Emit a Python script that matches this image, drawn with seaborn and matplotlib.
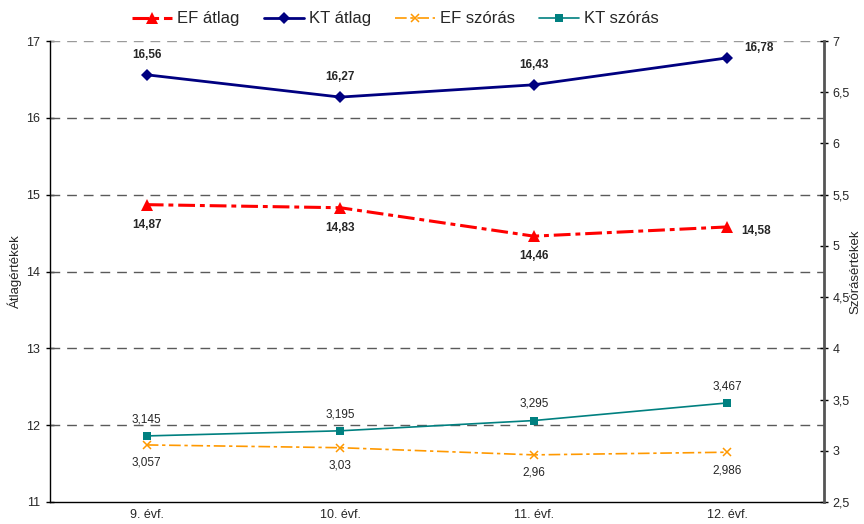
import matplotlib
matplotlib.use("Agg")
import matplotlib.pyplot as plt
import seaborn as sns

# School years (grades 9-12)
grades = ["9. évf.", "10. évf.", "11. évf.", "12. évf."]

# Means (left axis)
ef_mean = [14.87, 14.83, 14.46, 14.58]
kt_mean = [16.56, 16.27, 16.43, 16.78]

# Standard deviations (right axis)
ef_sd = [3.057, 3.03, 2.96, 2.986]
kt_sd = [3.145, 3.195, 3.295, 3.467]

sns.set_theme(style="white")
plt.rcParams["font.family"] = ["Liberation Sans", "DejaVu Sans"]

fig = plt.figure(figsize=(8.64, 5.24), dpi=100)
ax = fig.add_axes([50 / 864, 22 / 524, 774 / 864, 461 / 524])
ax2 = ax.twinx()

RED = "#FF0000"
NAVY = "#000080"
ORANGE = "#FF9900"
TEAL = "#008080"


def fmt(v):
    return f"{v:g}".replace(".", ",")


# Mean series
sns.lineplot(x=grades, y=ef_mean, ax=ax, color=RED, lw=2.2,
             linestyle=(0, (5.5, 1.6, 1.6, 1.6)), marker="^", markersize=9,
             markeredgewidth=0, label="EF átlag", zorder=5)
sns.lineplot(x=grades, y=kt_mean, ax=ax, color=NAVY, lw=2.0,
             marker="D", markersize=6.5, markeredgewidth=0,
             label="KT átlag", zorder=5)

# Standard deviation series
sns.lineplot(x=grades, y=ef_sd, ax=ax2, color=ORANGE, lw=1.2,
             linestyle=(0, (7, 2.2, 2, 2.2)), marker="x", markersize=6,
             markeredgewidth=1.1, markeredgecolor=ORANGE,
             label="EF szórás", zorder=5)
sns.lineplot(x=grades, y=kt_sd, ax=ax2, color=TEAL, lw=1.2,
             marker="s", markersize=5.5, markeredgewidth=0,
             label="KT szórás", zorder=5)

ax.set_xlim(-0.5, len(grades) - 0.5)
ax.set_ylim(11, 17)
ax2.set_ylim(2.5, 7)
ax.set_yticks(range(11, 18))
ax2.set_yticks([2.5, 3, 3.5, 4, 4.5, 5, 5.5, 6, 6.5, 7])
ax2.set_yticklabels([fmt(t) for t in ax2.get_yticks()])

# Dashed horizontal gridlines at each mean tick
for yv in range(12, 18):
    ax.axhline(yv, color="#5a5a5a" if yv < 17 else "#9a9a9a", lw=1.0,
               dashes=(7, 5), zorder=1)

# Value labels
for i, v in enumerate(kt_mean):
    if i == len(kt_mean) - 1:
        ax.annotate(fmt(v), (i, v), xytext=(12, 7), textcoords="offset points",
                    ha="left", va="center", fontsize=8.5, fontweight="bold")
    else:
        ax.annotate(fmt(v), (i, v), xytext=(0, 14.5), textcoords="offset points",
                    ha="center", va="center", fontsize=8.5, fontweight="bold")
for i, v in enumerate(ef_mean):
    if i == len(ef_mean) - 1:
        ax.annotate(fmt(v), (i, v), xytext=(10, -3), textcoords="offset points",
                    ha="left", va="center", fontsize=8.5, fontweight="bold")
    else:
        ax.annotate(fmt(v), (i, v), xytext=(0, -14.5), textcoords="offset points",
                    ha="center", va="center", fontsize=8.5, fontweight="bold")
for i, v in enumerate(kt_sd):
    ax2.annotate(fmt(v), (i, v), xytext=(0, 12), textcoords="offset points",
                 ha="center", va="center", fontsize=8.5)
for i, v in enumerate(ef_sd):
    ax2.annotate(fmt(v), (i, v), xytext=(0, -13), textcoords="offset points",
                 ha="center", va="center", fontsize=8.5)

# Spines and ticks
for a in (ax, ax2):
    a.spines["top"].set_visible(False)
ax.spines["left"].set_color("black")
ax.spines["left"].set_linewidth(1.0)
ax.spines["bottom"].set_color("black")
ax.spines["bottom"].set_linewidth(1.0)
ax.spines["right"].set_visible(False)
ax2.spines["left"].set_visible(False)
ax2.spines["bottom"].set_visible(False)
ax2.spines["right"].set_color("#555555")
ax2.spines["right"].set_linewidth(2.0)

ax.tick_params(axis="y", direction="inout", length=6, width=1, color="black",
               labelsize=9, pad=4, left=True)
ax.tick_params(axis="x", length=0, labelsize=9, pad=5)
ax2.tick_params(axis="y", direction="inout", length=6, width=1, color="black",
                labelsize=9, pad=3, right=True)

ax.set_xlabel("")
ax.set_ylabel("Átlagértékek", fontsize=9.5, labelpad=3)
ax2.set_ylabel("Szórásértékek", fontsize=9.5, labelpad=0)

# Combined legend across the top
h1, l1 = ax.get_legend_handles_labels()
h2, l2 = ax2.get_legend_handles_labels()
ax.get_legend().remove()
ax2.get_legend().remove()
fig.legend(h1 + h2, l1 + l2, loc="center", bbox_to_anchor=(0.458, 1 - 19 / 524),
           ncol=4, frameon=False, fontsize=12, handlelength=2.4,
           handletextpad=0.3, columnspacing=1.45, borderpad=0.1)

fig.savefig("out.png", dpi=100)
